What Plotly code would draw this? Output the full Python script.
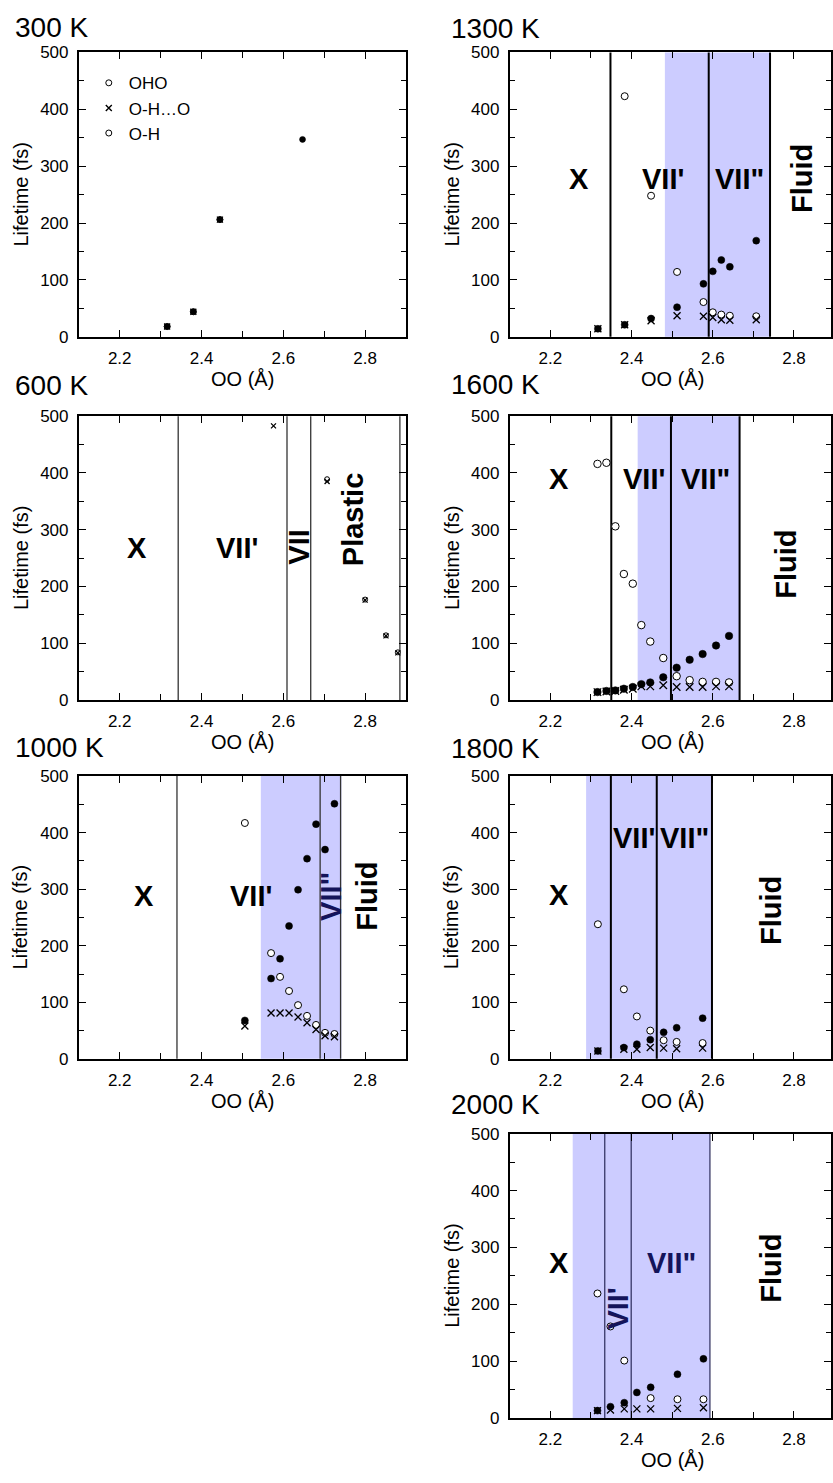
import plotly.graph_objects as go

W, H = 833, 1483

# ---------------- data (OO distance in Å, lifetime in fs) ----------------
# 300 K
x300_oho = [2.316, 2.380, 2.445]
y300_oho = [18, 44, 206]
x300_hb = [2.316, 2.380, 2.445]
y300_hb = [18, 44, 206]
x300_oh = [2.316, 2.380, 2.445, 2.647]
y300_oh = [18, 44, 206, 347]

# 600 K
x600_oho = [2.707, 2.800, 2.851, 2.880]
y600_oho = [389, 177, 114, 84]
x600_hb = [2.576, 2.707, 2.800, 2.851, 2.880]
y600_hb = [483, 385, 176, 113, 83]

# 1000 K
x1000 = [2.506, 2.570, 2.592, 2.614, 2.636, 2.658, 2.680, 2.702, 2.725]
y1000_oho = [417, 187, 145, 120, 95, 76, 60, 46, 44]
y1000_hb = [58, 81, 81, 81, 74, 64, 52, 41, 39]
y1000_oh = [68, 142, 177, 235, 299, 354, 415, 370, 451]

# 1300 K
x1300 = [2.317, 2.383, 2.448, 2.512, 2.577, 2.600, 2.621, 2.642, 2.707]
y1300_hb = [14, 21, 28, 37, 36, 34, 30, 29, 30]
y1300_oh = [14, 21, 32, 52, 93, 115, 135, 123, 169]
x1300_oho = [2.383, 2.448, 2.512, 2.577, 2.600, 2.621, 2.642, 2.707]
y1300_oho = [423, 248, 114, 61, 43, 39, 37, 36]

# 1600 K
x1600 = [2.316, 2.338, 2.360, 2.381, 2.403, 2.424, 2.446, 2.478, 2.511,
         2.543, 2.575, 2.608, 2.640]
y1600_oho = [416, 418, 306, 222, 205, 132, 103, 74, 42, 35, 32, 32, 31]
y1600_hb = [14, 15, 16, 18, 20, 24, 24, 26, 23, 23, 23, 24, 24]
y1600_oh = [14, 16, 17, 20, 23, 28, 31, 40, 57, 71, 81, 96, 113]

# 1800 K
x1800 = [2.317, 2.381, 2.413, 2.446, 2.479, 2.511, 2.575]
y1800_oho = [238, 123, 75, 50, 33, 30, 28]
y1800_hb = [14, 17, 17, 20, 19, 18, 19]
y1800_oh = [14, 20, 26, 34, 47, 55, 72]

# 2000 K
x2000 = [2.316, 2.348, 2.382, 2.413, 2.447, 2.513, 2.577]
y2000_hb = [13, 14, 16, 16, 16, 17, 18]
y2000_oh = [13, 20, 27, 45, 54, 77, 104]
x2000_oho = [2.316, 2.348, 2.382, 2.447, 2.513, 2.577]
y2000_oho = [219, 161, 101, 35, 33, 33]

panel_titles = ["300 K", "1300 K", "600 K", "1600 K", "1000 K", "1800 K", "2000 K"]
legend_names = ["OHO", "O-H…O", "O-H"]
x_title = "OO (Å)"
y_title = "Lifetime (fs)"
x_tickvals = [2.2, 2.4, 2.6, 2.8]
y_tickvals = [0, 100, 200, 300, 400, 500]

# phase boundaries and shaded regions per panel
boundaries = {
    3: [2.343, 2.609, 2.667, 2.885],
    5: [2.340, 2.690, 2.740],
    2: [2.348, 2.590, 2.741],
    4: [2.350, 2.497, 2.666],
    6: [2.349, 2.462, 2.598],
    7: [2.334, 2.399, 2.593],
}
shaded = {
    5: (2.545, 2.742),
    2: (2.482, 2.741),
    4: (2.415, 2.666),
    6: (2.288, 2.598),
    7: (2.255, 2.593),
}
# phase labels: panel, x, y, text, angle, colour
NAVY = "#14145a"
phase_labels = [
    (3, 2.243, 267, "X", 0, "black"),
    (3, 2.487, 267, "VII'", 0, "black"),
    (3, 2.638, 270, "VII", -90, "black"),
    (3, 2.771, 319, "Plastic", -90, "black"),
    (5, 2.259, 288, "X", 0, "black"),
    (5, 2.521, 288, "VII'", 0, "black"),
    (5, 2.715, 287, 'VII"', -90, NAVY),
    (5, 2.804, 288, "Fluid", -90, "black"),
    (2, 2.270, 278, "X", 0, "black"),
    (2, 2.477, 278, "VII'", 0, "black"),
    (2, 2.666, 278, 'VII"', 0, "black"),
    (2, 2.818, 278, "Fluid", -90, "black"),
    (4, 2.222, 390, "X", 0, "black"),
    (4, 2.430, 390, "VII'", 0, "black"),
    (4, 2.583, 390, 'VII"', 0, "black"),
    (4, 2.780, 240, "Fluid", -90, "black"),
    (6, 2.222, 289, "X", 0, "black"),
    (6, 2.405, 391, "VII'", 0, "black"),
    (6, 2.530, 391, 'VII"', 0, "black"),
    (6, 2.743, 263, "Fluid", -90, "black"),
    (7, 2.222, 273, "X", 0, "black"),
    (7, 2.499, 273, 'VII"', 0, NAVY),
    (7, 2.366, 192, "VII'", -90, NAVY),
    (7, 2.743, 264, "Fluid", -90, "black"),
]

# ---------------- layout geometry (pixels) ----------------
FONT = "Liberation Sans, Arial, sans-serif"
col_px = {"L": (79, 407), "R": (511, 833)}
row_px = {1: (44, 332), 2: (412.5, 700), 3: (777, 1063.5), 4: (1139.3, 1427.3)}
panel_pos = {1: ("L", 1), 2: ("R", 1), 3: ("L", 2), 4: ("R", 2), 5: ("L", 3), 6: ("R", 3), 7: ("R", 4)}
title_px = {1: (13, 19), 2: (450, 20), 3: (13, 381), 4: (450, 380),
            5: (13, 748), 6: (450, 749), 7: (450, 1110)}
px_per_unit = {"L": 410.0, "R": 407.0}

fig = go.Figure()

def ax_name(i, kind):
    return kind if i == 1 else f"{kind}{i}"

def add_series(i, xs, ys, kind, size):
    xa = "x" if i == 1 else f"x{i}"
    ya = "y" if i == 1 else f"y{i}"
    if kind == "oho":
        marker = dict(symbol="circle", size=size, color="white",
                      line=dict(color="black", width=1))
    elif kind == "hb":
        marker = dict(symbol="x-thin", size=size, color="black",
                      line=dict(color="black", width=1.3))
    else:
        marker = dict(symbol="circle", size=size, color="black",
                      line=dict(color="black", width=0.5))
    fig.add_trace(go.Scatter(x=xs, y=ys, mode="markers", marker=marker,
                             xaxis=xa, yaxis=ya, showlegend=False,
                             hoverinfo="skip"))

series = {
    1: [(x300_oho, y300_oho, "oho"), (x300_oh, y300_oh, "oh"), (x300_hb, y300_hb, "hb")],
    3: [(x600_oho, y600_oho, "oho"), (x600_hb, y600_hb, "hb")],
    5: [(x1000, y1000_oho, "oho"), (x1000, y1000_oh, "oh"), (x1000, y1000_hb, "hb")],
    2: [(x1300_oho, y1300_oho, "oho"), (x1300, y1300_oh, "oh"), (x1300, y1300_hb, "hb")],
    4: [(x1600, y1600_oho, "oho"), (x1600, y1600_oh, "oh"), (x1600, y1600_hb, "hb")],
    6: [(x1800, y1800_oho, "oho"), (x1800, y1800_oh, "oh"), (x1800, y1800_hb, "hb")],
    7: [(x2000_oho, y2000_oho, "oho"), (x2000, y2000_oh, "oh"), (x2000, y2000_hb, "hb")],
}
msize = {1: 6, 3: 5, 5: 7, 2: 7, 4: 7.5, 6: 7, 7: 7}
for i, lst in series.items():
    for xs, ys, kind in lst:
        add_series(i, xs, ys, kind, msize[i])

# legend-only entries (as drawn in the reference legend)
leg_markers = [
    dict(symbol="circle", size=6, color="white", line=dict(color="black", width=1)),
    dict(symbol="x-thin", size=6, color="black", line=dict(color="black", width=1.4)),
    dict(symbol="circle", size=6, color="white", line=dict(color="black", width=1)),
]
for name, mk in zip(legend_names, leg_markers):
    fig.add_trace(go.Scatter(x=[None], y=[None], mode="markers", marker=mk,
                             name=name, showlegend=True, xaxis="x", yaxis="y"))

layout = dict(
    width=W, height=H, margin=dict(l=0, r=0, t=0, b=0),
    paper_bgcolor="white", plot_bgcolor="white",
    font=dict(family=FONT, color="black", size=17),
    showlegend=True,
    legend=dict(x=89 / W, y=1 - 57 / H, xanchor="left", yanchor="top",
                bgcolor="rgba(0,0,0,0)", font=dict(size=17, family=FONT),
                itemsizing="trace", tracegroupgap=0),
)
shapes = []
annotations = []
for i, (col, row) in panel_pos.items():
    x0p, x1p = col_px[col]
    t, b = row_px[row]
    xr_end = 2.1 + (x1p - x0p) / px_per_unit[col]
    xname = ax_name(i, "xaxis")
    yname = ax_name(i, "yaxis")
    xa = "x" if i == 1 else f"x{i}"
    ya = "y" if i == 1 else f"y{i}"
    common = dict(showline=True, linecolor="black", linewidth=1.8, mirror="ticks",
                  ticks="inside", ticklen=7, tickwidth=1.3, tickcolor="black",
                  showgrid=False, zeroline=False, ticklabelstandoff=5,
                  tickfont=dict(size=17, family=FONT, color="black"), fixedrange=True)
    layout[xname] = dict(common, domain=[x0p / W, x1p / W], range=[2.1, xr_end],
                         anchor=ya, tickvals=x_tickvals,
                         ticktext=[f"{v:.1f}" for v in x_tickvals],
                         minor=dict(tickvals=[2.3, 2.5, 2.7], ticks="inside",
                                    ticklen=6, tickwidth=1.2, tickcolor="black"))
    layout[yname] = dict(common, domain=[1 - b / H, 1 - t / H], range=[0, 500],
                         anchor=xa, tickvals=y_tickvals,
                         ticktext=[str(v) for v in y_tickvals],
                         minor=dict(tickvals=[50, 150, 250, 350, 450], ticks="inside",
                                    ticklen=5, tickwidth=1.2, tickcolor="black"))
    # panel title
    tx, ty = title_px[i]
    annotations.append(dict(xref="paper", yref="paper", x=tx / W, y=1 - ty / H,
                            xanchor="left", yanchor="middle", showarrow=False,
                            text=panel_titles[i - 1],
                            font=dict(size=28, family=FONT, color="black")))
    # axis titles
    mid_x = (x0p + (x0p + 0.8 * px_per_unit[col])) / 2
    annotations.append(dict(xref="paper", yref="paper", x=mid_x / W, y=1 - (b + 43) / H,
                            xanchor="center", yanchor="middle", showarrow=False,
                            text=x_title, font=dict(size=20, family=FONT, color="black")))
    annotations.append(dict(xref="paper", yref="paper", x=(x0p - 58) / W,
                            y=1 - ((t + b) / 2) / H, xanchor="center", yanchor="middle",
                            showarrow=False, textangle=-90, text=y_title,
                            font=dict(size=20, family=FONT, color="black")))
    # shaded region
    if i in shaded:
        s0, s1 = shaded[i]
        shapes.append(dict(type="rect", xref=xa, yref=f"{ya} domain", x0=s0, x1=s1,
                           y0=0, y1=1, fillcolor="#ccccff", line=dict(width=0),
                           layer="below"))
    # boundary lines
    if i in boundaries:
        if i in (3, 5):
            lc, lw = "#333333", 1.3
        elif i == 7:
            lc, lw = "#1c1c4c", 1.1
        else:
            lc, lw = "black", 2
        for bx in boundaries[i]:
            shapes.append(dict(type="line", xref=xa, yref=f"{ya} domain", x0=bx, x1=bx,
                               y0=0, y1=1, line=dict(color=lc, width=lw), layer="below"))

for (i, lx, ly, txt, ang, colr) in phase_labels:
    xa = "x" if i == 1 else f"x{i}"
    ya = "y" if i == 1 else f"y{i}"
    annotations.append(dict(xref=xa, yref=ya, x=lx, y=ly, text=f"<b>{txt}</b>",
                            showarrow=False, textangle=ang, xanchor="center",
                            yanchor="middle",
                            font=dict(size=29, family=FONT, color=colr)))

layout["shapes"] = shapes
layout["annotations"] = annotations
fig.update_layout(**layout)
fig.write_html("out.html", include_plotlyjs=True, full_html=True,
               config={"displayModeBar": False},
               post_script="document.body.style.margin='0';"
                           "document.body.style.overflow='hidden';")
